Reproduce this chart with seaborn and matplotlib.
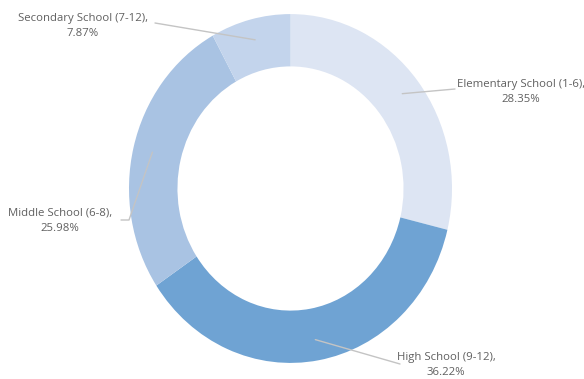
import numpy as np
import matplotlib.pyplot as plt
import seaborn as sns

# Data
schools = [
    "Elementary School (1-6)",
    "High School (9-12)",
    "Middle School (6-8)",
    "Secondary School (7-12)",
]
shares = [28.35, 36.22, 25.98, 7.87]
colors = ["#dde5f3", "#6fa3d3", "#a9c3e3", "#c3d4ec"]

# Label placement in picture pixels: (text centre x, text centre y, leader end x, leader end y, tail)
label_pos = [
    (521, 92, 455, 89, 0),
    (446, 365, 400, 364, 0),
    (60, 221, 129, 220, -8),
    (83, 26, 155, 23, 0),
]

sns.set_theme(style="white")
plt.rcParams["font.family"] = ["Open Sans", "DejaVu Sans"]

W, H = 584, 379
k = 1.08  # the reference is stretched a little vertically
cx, cy = 290.5, (H - 188.5) / k
R = 161.5

fig = plt.figure(figsize=(W / 100, H / 100), dpi=100)
ax = fig.add_axes([0, 0, 1, 1])

wedges, _ = ax.pie(
    shares,
    colors=colors,
    startangle=90,
    counterclock=False,
    radius=R,
    center=(cx, cy),
    wedgeprops=dict(width=R * 0.3, linewidth=0),
    frame=True,
)
ax.set_aspect("auto")
ax.set_xlim(0, W)
ax.set_ylim(0, H / k)
ax.axis("off")

# Labels with leader lines
for w, name, share, (tx, ty, ex, ey, tail) in zip(wedges, schools, shares, label_pos):
    ang = np.deg2rad((w.theta1 + w.theta2) / 2)
    sx = cx + 0.88 * R * np.cos(ang)
    sy = cy + 0.88 * R * np.sin(ang)
    ax.plot([sx, ex, ex + tail], [sy, (H - ey) / k, (H - ey) / k],
            color="#c4c4c4", lw=1)
    ax.text(
        tx, (H - ty) / k, f"{name},\n{share:.2f}%",
        ha="center", va="center", fontsize=8.2, color="#606060",
        linespacing=1.6,
    )

fig.savefig("out.png", dpi=100, facecolor="white")
